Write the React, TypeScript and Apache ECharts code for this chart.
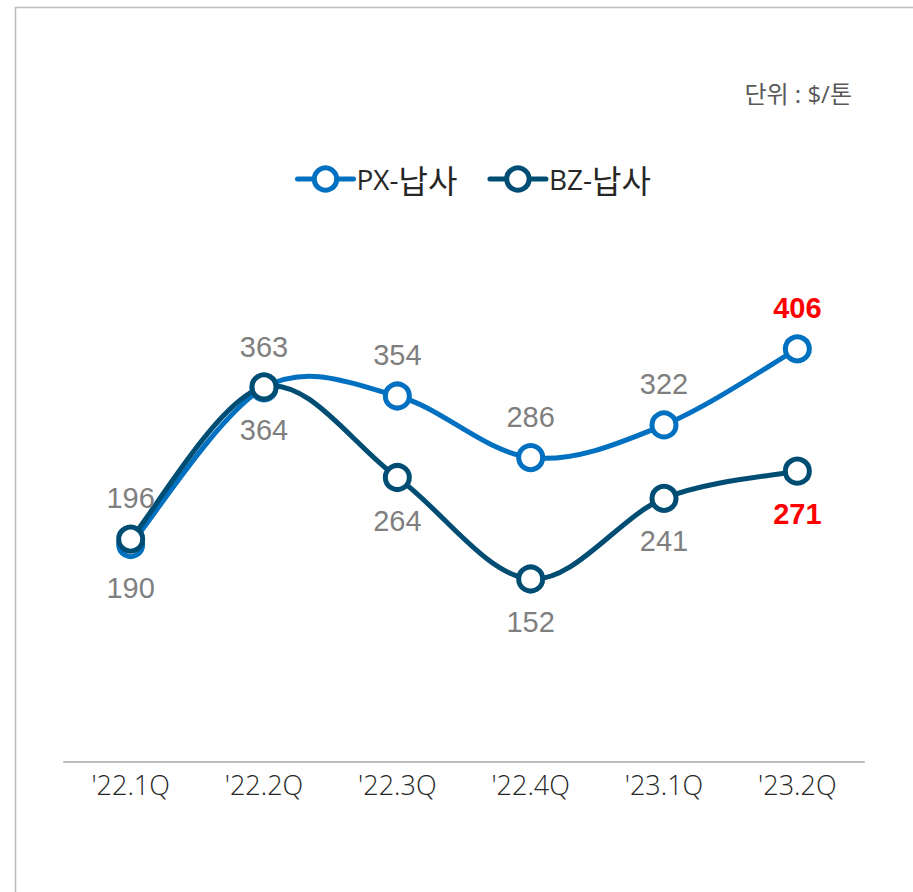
import React, { useEffect, useRef } from "react";
import * as echarts from "echarts";

const categories = ["'22.1Q", "'22.2Q", "'22.3Q", "'22.4Q", "'23.1Q", "'23.2Q"];
const pxValues = [190, 363, 354, 286, 322, 406];
const bzValues = [196, 364, 264, 152, 241, 271];
const pxLabelPos = ["bottom", "top", "top", "top", "top", "top"];
const bzLabelPos = ["top", "bottom", "bottom", "bottom", "bottom", "bottom"];
const seriesNames = ["PX-납사", "BZ-납사"];
const unitText = "단위 : $/톤";

const PX_COLOR = "#0070c0";
const BZ_COLOR = "#004d73";

function buildData(values: number[], positions: string[]) {
  return values.map((v, i) => {
    const last = i === values.length - 1;
    return {
      value: v,
      label: {
        position: positions[i],
        distance: positions[i] === "top" ? 12 : 14,
        color: last ? "#ff0000" : "#7f7f7f",
        fontWeight: last ? "bold" : "normal",
      },
    };
  });
}

// Excel-like (Catmull-Rom) smoothed curve segments drawn from the data via the axes
function curveSeries(name: string, values: number[], color: string, z: number) {
  return {
    name,
    type: "custom",
    coordinateSystem: "cartesian2d",
    data: values.map((v, i) => [i, v]),
    encode: { x: 0, y: 1 },
    silent: true,
    z,
    renderItem: (params: any, api: any) => {
      const i = params.dataIndex;
      const n = values.length;
      if (i >= n - 1) return { type: "group", children: [] };
      const pts = values.map((v, j) => api.coord([j, v]));
      const p0 = pts[Math.max(i - 1, 0)];
      const p1 = pts[i];
      const p2 = pts[i + 1];
      const p3 = pts[Math.min(i + 2, n - 1)];
      const t = 1 / 6;
      return {
        type: "bezierCurve",
        shape: {
          x1: p1[0],
          y1: p1[1],
          cpx1: p1[0] + (p2[0] - p0[0]) * t,
          cpy1: p1[1] + (p2[1] - p0[1]) * t,
          cpx2: p2[0] - (p3[0] - p1[0]) * t,
          cpy2: p2[1] - (p3[1] - p1[1]) * t,
          x2: p2[0],
          y2: p2[1],
        },
        style: { stroke: color, lineWidth: 5, fill: "none", lineCap: "round" },
      };
    },
  };
}

export default function App() {
  const ref = useRef<HTMLDivElement>(null);
  useEffect(() => {
    if (!ref.current) return;
    const chart = echarts.init(ref.current, undefined, { renderer: "svg" });
    const labelBase = {
      show: true,
      fontSize: 29,
      fontFamily: "Liberation Sans, Arial, sans-serif",
    };
    chart.setOption({
      animation: false,
      backgroundColor: "#ffffff",
      graphic: [
        {
          type: "rect",
          shape: { x: 15.5, y: 7.5, width: 1000, height: 1000 },
          style: { fill: "none", stroke: "#bcbcbc", lineWidth: 1.5 },
          silent: true,
        },
        {
          type: "text",
          x: 852,
          y: 93,
          style: {
            text: unitText,
            fill: "#595959",
            fontSize: 24,
            fontFamily: "Open Sans, Noto Sans CJK KR, sans-serif",
            align: "right",
            verticalAlign: "middle",
          },
        },
      ],
      legend: {
        data: seriesNames,
        left: 290,
        top: 158,
        itemWidth: 56,
        itemHeight: 28,
        itemGap: 30,
        lineStyle: { width: 5, opacity: 1, cap: "round" },
        itemStyle: { borderWidth: 5, color: "#ffffff", opacity: 1 },
        formatter: (name: string) => {
          const idx = name.indexOf("-");
          return "{a|" + name.slice(0, idx + 1) + "}{b|" + name.slice(idx + 1) + "}";
        },
        textStyle: {
          color: "#262626",
          padding: [0, 0, 0, -2],
          rich: {
            a: { fontSize: 28, fontFamily: "Open Sans, sans-serif", color: "#262626" },
            b: { fontSize: 32, fontFamily: "Noto Sans CJK KR, sans-serif", color: "#262626" },
          },
        },
      },
      grid: { left: 64, right: 49, top: 309, bottom: 130, containLabel: false },
      xAxis: {
        type: "category",
        data: categories,
        boundaryGap: true,
        axisLine: { onZero: false, lineStyle: { color: "#bfbfbf", width: 2 } },
        axisTick: { show: false },
        axisLabel: {
          fontSize: 27,
          color: "#262626",
          fontFamily: "Open Sans, sans-serif",
          fontWeight: 300,
          margin: 9,
        },
      },
      yAxis: {
        type: "value",
        min: -50,
        max: 450,
        show: false,
        splitLine: { show: false },
      },
      series: [
        curveSeries("PX-curve", pxValues, PX_COLOR, 1),
        curveSeries("BZ-curve", bzValues, BZ_COLOR, 1),
        {
          name: seriesNames[0],
          type: "line",
          data: buildData(pxValues, pxLabelPos),
          symbol: "circle",
          symbolSize: 24,
          lineStyle: { color: PX_COLOR, width: 5, opacity: 0 },
          itemStyle: { color: "#ffffff", borderColor: PX_COLOR, borderWidth: 5 },
          label: labelBase,
          z: 3,
        },
        {
          name: seriesNames[1],
          type: "line",
          data: buildData(bzValues, bzLabelPos),
          symbol: "circle",
          symbolSize: 24,
          lineStyle: { color: BZ_COLOR, width: 5, opacity: 0 },
          itemStyle: { color: "#ffffff", borderColor: BZ_COLOR, borderWidth: 5 },
          label: labelBase,
          z: 4,
        },
      ],
    });
    return () => chart.dispose();
  }, []);
  return (
    <div
      ref={ref}
      style={{ position: "fixed", left: 0, top: 0, width: 913, height: 892 }}
    />
  );
}
